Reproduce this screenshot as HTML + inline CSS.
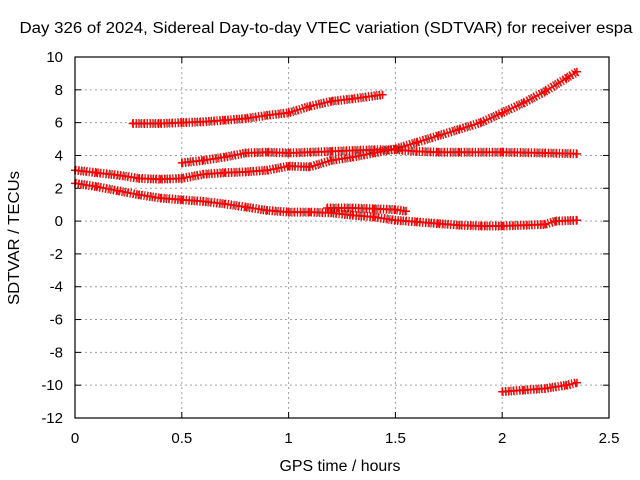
<!DOCTYPE html>
<html><head><meta charset="utf-8"><style>
body{margin:0;background:#fff}
svg{display:block;font-family:"Liberation Sans",Arial,sans-serif}
</style></head><body>
<svg id="chart" width="640" height="480">
<text x="326" y="33" font-size="15.5" text-anchor="middle" textLength="613" lengthAdjust="spacingAndGlyphs">Day 326 of 2024, Sidereal Day-to-day VTEC variation (SDTVAR) for receiver espa</text>
<text x="340" y="471" font-size="15.5" text-anchor="middle" textLength="121" lengthAdjust="spacingAndGlyphs">GPS time / hours</text>
<text transform="translate(19,238) rotate(-90)" font-size="15.5" text-anchor="middle" textLength="134" lengthAdjust="spacingAndGlyphs">SDTVAR / TECUs</text>
<g id="grid"></g><g id="series"></g>
<rect x="75" y="57" width="534" height="361" fill="none" stroke="#000" stroke-width="1.2"/>
</svg>
<script>
const xTicks=[0,0.5,1,1.5,2,2.5];
const xTickLabels=["0","0.5","1","1.5","2","2.5"];
const yTicks=[-12,-10,-8,-6,-4,-2,0,2,4,6,8,10];
const seriesA=[[0.27,5.95],[0.4,5.95],[0.5,6.0],[0.6,6.05],[0.7,6.15],[0.8,6.25],[0.9,6.45],[1.0,6.6],[1.1,7.0],[1.2,7.3],[1.3,7.45],[1.44,7.7]];
const seriesB=[[0,3.1],[0.1,2.95],[0.2,2.8],[0.3,2.6],[0.4,2.55],[0.5,2.6],[0.6,2.85],[0.7,2.95],[0.8,3.0],[0.9,3.1],[1.0,3.35],[1.1,3.3],[1.2,3.7],[1.3,3.9],[1.4,4.15],[1.5,4.4],[1.6,4.8],[1.7,5.2],[1.8,5.6],[1.9,6.0],[2.0,6.6],[2.1,7.2],[2.2,7.9],[2.3,8.7],[2.35,9.1]];
const seriesC=[[0.5,3.55],[0.6,3.7],[0.7,3.9],[0.8,4.15],[0.9,4.2],[1.0,4.15],[1.1,4.2],[1.2,4.25],[1.3,4.3],[1.4,4.35],[1.5,4.35],[1.6,4.25],[1.7,4.2],[1.8,4.2],[2.0,4.2],[2.2,4.15],[2.35,4.1]];
const seriesD=[[0,2.3],[0.1,2.1],[0.2,1.85],[0.3,1.6],[0.4,1.4],[0.5,1.3],[0.6,1.2],[0.7,1.05],[0.8,0.85],[0.9,0.65],[1.0,0.55],[1.1,0.55],[1.2,0.5],[1.3,0.35],[1.4,0.25],[1.5,0.05],[1.6,-0.05],[1.7,-0.15],[1.8,-0.25],[1.9,-0.3],[2.0,-0.3],[2.1,-0.25],[2.2,-0.2],[2.25,0.0],[2.35,0.05]];
const seriesE=[[1.18,0.8],[1.3,0.8],[1.4,0.75],[1.5,0.7],[1.55,0.6]];
const seriesF=[[2.0,-10.4],[2.1,-10.3],[2.2,-10.2],[2.3,-10.0],[2.35,-9.85]];
const allSeries=[seriesA,seriesB,seriesC,seriesD,seriesE,seriesF];
const X0=75,X1=609,Y0=418,Y1=57;
const sx=v=>X0+(v-0)/(2.5-0)*(X1-X0);
const sy=v=>Y0-(v+12)/(22)*(Y0-Y1);
const NS="http://www.w3.org/2000/svg";
const grid=document.getElementById('grid'),ser=document.getElementById('series');
function mk(t,a,p){const e=document.createElementNS(NS,t);for(const k in a)e.setAttribute(k,a[k]);p.appendChild(e);return e;}
xTicks.forEach((t,i)=>{const x=sx(t);
 if(i>0&&i<xTicks.length-1){const l=mk('line',{x1:x,x2:x,y1:Y1,y2:Y0,stroke:'#a0a0a0','stroke-dasharray':'2,3'},grid);
 
 }
 mk('line',{x1:x,x2:x,y1:Y0,y2:Y0-6,stroke:'#000'},grid);mk('line',{x1:x,x2:x,y1:Y1,y2:Y1+6,stroke:'#000'},grid);
 const tx=mk('text',{x:x,y:Y0+25,'font-size':15,'text-anchor':'middle'},grid);tx.textContent=xTickLabels[i];
 
 });
yTicks.forEach(t=>{const y=sy(t);
 if(t>-12&&t<10){const l=mk('line',{x1:X0,x2:X1,y1:y,y2:y,stroke:'#a0a0a0','stroke-dasharray':'2,3'},grid);
 
 }
 mk('line',{x1:X0,x2:X0+6,y1:y,y2:y,stroke:'#000'},grid);mk('line',{x1:X1,x2:X1-6,y1:y,y2:y,stroke:'#000'},grid);
 const tx=mk('text',{x:X0-12,y:y+5,'font-size':15,'text-anchor':'end'},grid);tx.textContent=String(t);
 
 });
allSeries.forEach((s,i)=>{
 const pts=s.map(p=>sx(p[0]).toFixed(1)+','+sy(p[1]).toFixed(1)).join(' ');
 const g=mk('g',{},ser);
 
 
 mk('polyline',{points:pts,fill:'none',stroke:'#000','stroke-width':8,'stroke-dasharray':'1,2.5','stroke-opacity':0.6},g);
 mk('polyline',{points:pts,fill:'none',stroke:'#f00','stroke-width':9,'stroke-dasharray':'1.2,1.6'},g);
 mk('polyline',{points:pts,fill:'none',stroke:'#f00','stroke-width':2},g);
 s.forEach(p=>{const x=sx(p[0]),y=sy(p[1]);
  const m=mk('path',{d:`M${x-4},${y}H${x+4}M${x},${y-4}V${y+4}`,stroke:'#f00','stroke-width':1.5},g);
  
  });
});
</script>
</body></html>
